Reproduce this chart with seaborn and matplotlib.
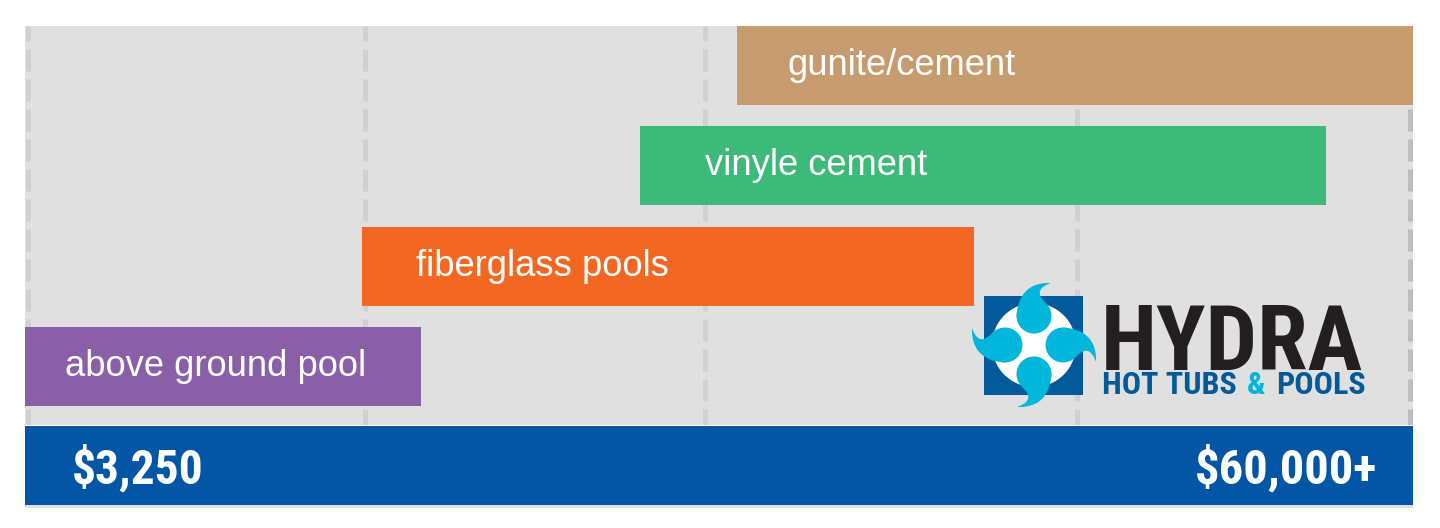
import numpy as np
import matplotlib
matplotlib.use("Agg")
import matplotlib.pyplot as plt
from matplotlib import font_manager
from matplotlib.patches import Rectangle, Circle, Polygon
import seaborn as sns

# pool types, price range positions on a 0-100 scale ($3,250 .. $60,000+)
categories = ["gunite/cement", "vinyle cement", "fiberglass pools", "above ground pool"]
range_start = [51.3, 44.3, 24.3, 0.0]
range_end = [100.0, 93.7, 68.4, 28.5]
label_at = [54.9, 49.0, 28.2, 2.9]
grid_at = [0.2, 24.5, 49.0, 75.8, 99.75]
price_low = "$3,250"
price_high = "$60,000+"

colors = ["#C69B6D", "#3DB97A", "#F26722", "#8A5FA8"]
GRAY = "#E0E0E0"
BLUE = "#0256A5"
LOGO_BLUE = "#025A9B"
CYAN = "#00B6DB"

sns.set_style("white")
plt.rcParams["font.family"] = ["Liberation Sans", "DejaVu Sans"]

# pick a condensed face for the logo / price labels if one exists
names = {f.name for f in font_manager.fontManager.ttflist}
cond = next((n for n in ["Roboto Condensed", "Liberation Sans Narrow",
                         "Open Sans Condensed", "DejaVu Sans Condensed"] if n in names), None)
if cond:
    cond_kw = dict(family=cond)
elif any(f.name == "DejaVu Sans" and f.stretch == "condensed" for f in font_manager.fontManager.ttflist):
    cond_kw = dict(family="DejaVu Sans", fontstretch="condensed")
else:
    cond_kw = dict(family="Liberation Sans")

fig = plt.figure(figsize=(14.4, 5.28), dpi=100)
W, H = 1440, 528

ax = fig.add_axes([25 / W, 1 - 425 / H, 1388 / W, 399 / H])
ax.set_facecolor(GRAY)

widths = [e - s for s, e in zip(range_start, range_end)]
sns.barplot(x=widths, y=categories, hue=categories, palette=colors, legend=False,
            orient="h", width=0.79, saturation=1, ax=ax, zorder=3)
for p in ax.patches:
    i = int(round(p.get_y() + p.get_height() / 2))
    p.set_x(range_start[i])
    p.set_edgecolor("none")

for i, g in enumerate(grid_at):
    c = "#BDBDBD" if i == len(grid_at) - 1 else "#D0D0D0"
    ax.axvline(g, color=c, lw=3.6, linestyle=(1.2, (4.4, 1.6)), zorder=1)

for i, (lab, x) in enumerate(zip(categories, label_at)):
    ax.text(x, i, lab, color="white", fontsize=26.2, va="center", ha="left", zorder=4)

ax.set_xlim(0, 100)
ax.set_ylim(3.584, -0.394)
ax.set_xlabel("")
ax.set_ylabel("")
ax.set_xticks([])
ax.set_yticks([])
for s in ax.spines.values():
    s.set_visible(False)

# overlay in pixel coordinates for the price band and the logo
ov = fig.add_axes([0, 0, 1, 1], zorder=5)
ov.set_xlim(0, W)
ov.set_ylim(H, 0)
ov.set_axis_off()
renderer = fig.canvas.get_renderer()

ov.add_patch(Rectangle((25, 426), 1388, 79, color=BLUE, lw=0))
ov.add_patch(Rectangle((25, 505), 1388, 3, color=GRAY, lw=0))


def fit_text(x, y, s, width_px, size, **kw):
    t = ov.text(x, y, s, fontsize=size, **kw)
    w = t.get_window_extent(renderer).width
    if w > width_px:
        t.set_fontsize(size * width_px / w)
    return t


fit_text(72, 483, price_low, 132, 35, color="white", weight="heavy", va="baseline", ha="left", **cond_kw)
fit_text(1377, 483, price_high, 187, 35, color="white", weight="heavy", va="baseline", ha="right", **cond_kw)

# logo mark
cx, cy = 1034, 345
ov.add_patch(Rectangle((984, 296), 99, 99, color=LOGO_BLUE, lw=0))
ov.add_patch(Circle((cx, cy), 42, color="white", lw=0))


def bez(p0, p1, p2, n=40):
    t = np.linspace(0, 1, n)[:, None]
    return (1 - t) ** 2 * np.array(p0) + 2 * (1 - t) * t * np.array(p1) + t ** 2 * np.array(p2)


head_c, head_r = np.array([0.0, 29.0]), 17.5
tail = np.vstack([bez((-17.5, 29), (-15, 63), (17, 62)),
                  bez((17, 62), (-3, 55), (12.5, 41.5))])
for k in range(4):
    a = -np.pi / 2 * k
    R = np.array([[np.cos(a), -np.sin(a)], [np.sin(a), np.cos(a)]])
    pts = tail @ R.T
    hc = R @ head_c
    ov.add_patch(Polygon(np.c_[cx + pts[:, 0], cy - pts[:, 1]], color=CYAN, lw=0))
    ov.add_patch(Circle((cx + hc[0], cy - hc[1]), head_r, color=CYAN, lw=0))

fit_text(1101, 370, "HYDRA", 262, 74, color="#231F20", weight="heavy", va="baseline", ha="left", **cond_kw)

# second logo line with a cyan ampersand
size = 22
parts = [("HOT TUBS", LOGO_BLUE), ("&", CYAN), ("POOLS", LOGO_BLUE)]
texts = [ov.text(0, 394, s, color=c, fontsize=size, weight="bold", va="baseline", ha="left", **cond_kw)
         for s, c in parts]
ws = [t.get_window_extent(renderer).width for t in texts]
gap = 0.32 * size * 100 / 72
total = sum(ws) + 2 * gap
scale = 263 / total
x = 1102
for t in texts:
    t.set_fontsize(size * scale)
    t.set_x(x)
    x += t.get_window_extent(renderer).width + gap * scale

fig.savefig("out.png", dpi=100, facecolor="white")
